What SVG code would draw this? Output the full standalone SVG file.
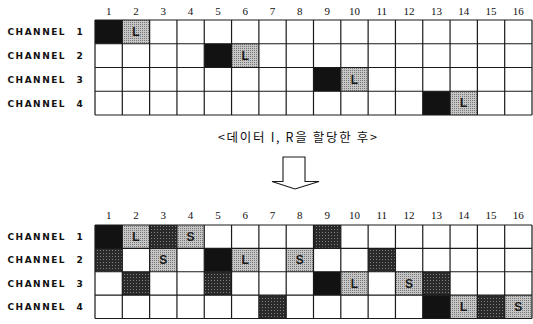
<svg xmlns="http://www.w3.org/2000/svg" width="533" height="324" viewBox="0 0 533 324">
<style>
.bg{fill:#fff}
.lbl{font-family:"DejaVu Sans",sans-serif;font-weight:bold;font-size:9px;letter-spacing:1.5px;fill:#111}
.num{font-family:"Liberation Serif",serif;font-size:11px;fill:#111;text-anchor:middle}
.cap{font-family:"Noto Sans CJK KR",sans-serif;font-size:12.5px;fill:#111}
.blk{fill:#121212}
.drk{fill:url(#pd)}
.lgt{fill:url(#pl)}
.let{font-family:"Liberation Sans",sans-serif;font-weight:bold;font-size:12px;fill:#1a1a1a;text-anchor:middle}
.grid{fill:none;stroke:#1a1a1a;stroke-width:1.2}
.arrow{fill:#fff;stroke:#1a1a1a;stroke-width:1.1}
</style>
<defs>
<pattern id="pd" width="3" height="3" patternUnits="userSpaceOnUse">
<rect width="3" height="3" fill="#2a2a2a"/>
<rect x="1" y="1" width="1" height="1" fill="#808080"/>
</pattern>
<pattern id="pl" width="2" height="2" patternUnits="userSpaceOnUse">
<rect width="2" height="2" fill="#c6c6c6"/>
<rect width="1" height="1" fill="#777"/>
</pattern>
</defs>
<rect class="bg" width="533" height="324"/>

<g id="top-numbers">
<text class="num" x="108.7" y="15">1</text><text class="num" x="136" y="15">2</text><text class="num" x="163.3" y="15">3</text><text class="num" x="190.6" y="15">4</text><text class="num" x="217.9" y="15">5</text><text class="num" x="245.2" y="15">6</text><text class="num" x="272.5" y="15">7</text><text class="num" x="299.8" y="15">8</text><text class="num" x="327.2" y="15">9</text><text class="num" x="354.5" y="15">10</text><text class="num" x="381.8" y="15">11</text><text class="num" x="409.1" y="15">12</text><text class="num" x="436.4" y="15">13</text><text class="num" x="463.7" y="15">14</text><text class="num" x="491" y="15">15</text><text class="num" x="518.3" y="15">16</text>
</g>
<g id="top-labels">
<text class="lbl" x="7.5" y="35.2">CHANNEL<tspan x="76.5">1</tspan></text>
<text class="lbl" x="7.5" y="59">CHANNEL<tspan x="76.5">2</tspan></text>
<text class="lbl" x="7.5" y="82.7">CHANNEL<tspan x="76.5">3</tspan></text>
<text class="lbl" x="7.5" y="106.5">CHANNEL<tspan x="76.5">4</tspan></text>
</g>
<g id="top-grid">
<rect class="blk" x="95" y="20" width="27.31" height="23.75"/>
<rect class="lgt" x="122.31" y="20" width="27.31" height="23.75"/>
<rect class="blk" x="204.25" y="43.75" width="27.31" height="23.75"/>
<rect class="lgt" x="231.56" y="43.75" width="27.31" height="23.75"/>
<rect class="blk" x="313.5" y="67.5" width="27.31" height="23.75"/>
<rect class="lgt" x="340.81" y="67.5" width="27.31" height="23.75"/>
<rect class="blk" x="422.75" y="91.25" width="27.31" height="23.75"/>
<rect class="lgt" x="450.06" y="91.25" width="27.31" height="23.75"/>
<text class="let" x="136" y="36.2">L</text>
<text class="let" x="245.2" y="59.9">L</text>
<text class="let" x="354.5" y="83.7">L</text>
<text class="let" x="463.7" y="107.4">L</text>
<path class="grid" d="M95 20H532M95 43.75H532M95 67.5H532M95 91.25H532M95 115H532M95 20V115M122.31 20V115M149.63 20V115M176.94 20V115M204.25 20V115M231.56 20V115M258.88 20V115M286.19 20V115M313.5 20V115M340.81 20V115M368.13 20V115M395.44 20V115M422.75 20V115M450.06 20V115M477.38 20V115M504.69 20V115M532 20V115"/>
</g>

<g id="caption">
<text class="cap" x="218" y="141.5" textLength="159" lengthAdjust="spacing">&lt;데이터 I, R을 할당한 후&gt;</text>
</g>

<g id="connectors">
<polygon class="arrow" points="283,157 305,157 305,181.5 319,181.5 295,189 272,181.5 283,181.5"/>
</g>

<g id="bottom-numbers">
<text class="num" x="108.7" y="219">1</text><text class="num" x="136" y="219">2</text><text class="num" x="163.3" y="219">3</text><text class="num" x="190.6" y="219">4</text><text class="num" x="217.9" y="219">5</text><text class="num" x="245.2" y="219">6</text><text class="num" x="272.5" y="219">7</text><text class="num" x="299.8" y="219">8</text><text class="num" x="327.2" y="219">9</text><text class="num" x="354.5" y="219">10</text><text class="num" x="381.8" y="219">11</text><text class="num" x="409.1" y="219">12</text><text class="num" x="436.4" y="219">13</text><text class="num" x="463.7" y="219">14</text><text class="num" x="491" y="219">15</text><text class="num" x="518.3" y="219">16</text>
</g>
<g id="bottom-labels">
<text class="lbl" x="7.5" y="240">CHANNEL<tspan x="76.5">1</tspan></text>
<text class="lbl" x="7.5" y="263.4">CHANNEL<tspan x="76.5">2</tspan></text>
<text class="lbl" x="7.5" y="286.8">CHANNEL<tspan x="76.5">3</tspan></text>
<text class="lbl" x="7.5" y="310.1">CHANNEL<tspan x="76.5">4</tspan></text>
</g>
<g id="bottom-grid">
<rect class="blk" x="95" y="225" width="27.31" height="23.38"/>
<rect class="lgt" x="122.31" y="225" width="27.31" height="23.38"/>
<rect class="drk" x="149.63" y="225" width="27.31" height="23.38"/>
<rect class="lgt" x="176.94" y="225" width="27.31" height="23.38"/>
<rect class="drk" x="313.5" y="225" width="27.31" height="23.38"/>

<rect class="drk" x="95" y="248.38" width="27.31" height="23.38"/>
<rect class="lgt" x="149.63" y="248.38" width="27.31" height="23.38"/>
<rect class="blk" x="204.25" y="248.38" width="27.31" height="23.38"/>
<rect class="lgt" x="231.56" y="248.38" width="27.31" height="23.38"/>
<rect class="lgt" x="286.19" y="248.38" width="27.31" height="23.38"/>
<rect class="drk" x="368.13" y="248.38" width="27.31" height="23.38"/>

<rect class="drk" x="122.31" y="271.75" width="27.31" height="23.38"/>
<rect class="drk" x="204.25" y="271.75" width="27.31" height="23.38"/>
<rect class="blk" x="313.5" y="271.75" width="27.31" height="23.38"/>
<rect class="lgt" x="340.81" y="271.75" width="27.31" height="23.38"/>
<rect class="lgt" x="395.44" y="271.75" width="27.31" height="23.38"/>
<rect class="drk" x="422.75" y="271.75" width="27.31" height="23.38"/>

<rect class="drk" x="258.88" y="295.13" width="27.31" height="23.38"/>
<rect class="blk" x="422.75" y="295.13" width="27.31" height="23.38"/>
<rect class="lgt" x="450.06" y="295.13" width="27.31" height="23.38"/>
<rect class="drk" x="477.38" y="295.13" width="27.31" height="23.38"/>
<rect class="lgt" x="504.69" y="295.13" width="27.31" height="23.38"/>

<text class="let" x="136" y="241">L</text>
<text class="let" x="190.6" y="241">S</text>
<text class="let" x="163.3" y="264.4">S</text>
<text class="let" x="245.2" y="264.4">L</text>
<text class="let" x="299.8" y="264.4">S</text>
<text class="let" x="354.5" y="287.8">L</text>
<text class="let" x="409.1" y="287.8">S</text>
<text class="let" x="463.7" y="311.1">L</text>
<text class="let" x="518.3" y="311.1">S</text>
<path class="grid" d="M95 225H532M95 248.38H532M95 271.75H532M95 295.13H532M95 318.5H532M95 225V318.5M122.31 225V318.5M149.63 225V318.5M176.94 225V318.5M204.25 225V318.5M231.56 225V318.5M258.88 225V318.5M286.19 225V318.5M313.5 225V318.5M340.81 225V318.5M368.13 225V318.5M395.44 225V318.5M422.75 225V318.5M450.06 225V318.5M477.38 225V318.5M504.69 225V318.5M532 225V318.5"/>
</g>
</svg>
